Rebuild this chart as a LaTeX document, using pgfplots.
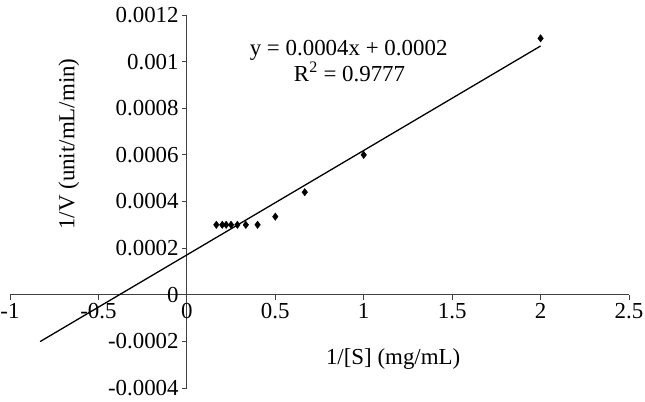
\documentclass[border=0pt]{standalone}
\usepackage{fontspec}
\setmainfont{Liberation Serif}
\usepackage{pgfplots}
\pgfplotsset{compat=1.18}
\begin{document}
\fontsize{23}{26}\selectfont
\begin{tikzpicture}
\path[use as bounding box] (0,0) rectangle (645bp,402bp);
\begin{axis}[
  at={(10bp,14bp)}, anchor=south west,
  scale only axis, width=619bp, height=373bp,
  xmin=-1, xmax=2.5, ymin=-0.0004, ymax=0.0012,
  axis lines=middle, axis line style={-, line width=0.8bp, black!75},
  scaled x ticks=false, scaled y ticks=false,
  xtick={-1,-0.5,0,0.5,1,1.5,2,2.5},
  xticklabels={-1,-0.5,0,0.5,1,1.5,2,2.5},
  ytick={-0.0004,-0.0002,0,0.0002,0.0004,0.0006,0.0008,0.001,0.0012},
  yticklabels={-0.0004,-0.0002,0,0.0002,0.0004,0.0006,0.0008,0.001,0.0012},
  tick align=outside, major tick length=5bp,
  tick style={black!75, line width=0.8bp},
  hide obscured x ticks=false, hide obscured y ticks=false,
  tick label style={font=\fontsize{23}{26}\selectfont, inner sep=1bp},
  xticklabel style={yshift=-2bp},
  yticklabel style={xshift=-2bp},
  xlabel={1/[S] (mg/mL)},
  xlabel style={at={(axis description cs:0.619,0.078)}, anchor=center},
  ylabel={1/V (unit/mL/min)},
  ylabel style={at={(axis description cs:0.095,0.654)}, anchor=center, rotate=90},
  clip=false,
]
\addplot[black, line width=1.3bp] coordinates {(-0.83,-0.000201) (2,0.001067)};
\addplot[only marks, mark=diamond*, mark size=3.7bp, black] coordinates {
  (0.1667,0.0003) (0.2,0.0003) (0.2222,0.0003) (0.25,0.0003) (0.2857,0.0003)
  (0.3333,0.0003) (0.4,0.0003) (0.5,0.000335) (0.6667,0.00044) (1,0.0006) (2,0.0011)
};
\node[anchor=center] at (axis cs:0.915,0.00105) {y = 0.0004x + 0.0002};
\node[anchor=center] at (axis cs:0.92,0.000955) {R\textsuperscript{2} = 0.9777};
\end{axis}
\end{tikzpicture}
\end{document}
